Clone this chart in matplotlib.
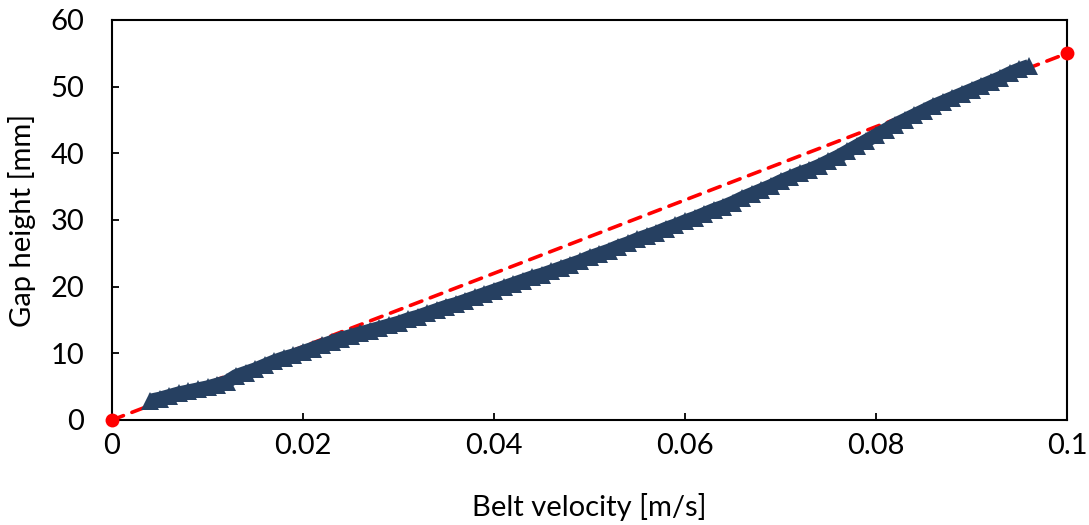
import matplotlib
matplotlib.use("Agg")
import matplotlib.pyplot as plt
from matplotlib.ticker import FixedLocator, FixedFormatter

# Measured data: belt velocity [m/s] vs gap height [mm]
velocity = [0.004, 0.005, 0.006, 0.007, 0.008, 0.009, 0.010, 0.011, 0.012, 0.013,
            0.014, 0.015, 0.016, 0.017, 0.018, 0.019, 0.020, 0.021, 0.022, 0.023,
            0.024, 0.025, 0.026, 0.027, 0.028, 0.029, 0.030, 0.031, 0.032, 0.033,
            0.034, 0.035, 0.036, 0.037, 0.038, 0.039, 0.040, 0.041, 0.042, 0.043,
            0.044, 0.045, 0.046, 0.047, 0.048, 0.049, 0.050, 0.051, 0.052, 0.053,
            0.054, 0.055, 0.056, 0.057, 0.058, 0.059, 0.060, 0.061, 0.062, 0.063,
            0.064, 0.065, 0.066, 0.067, 0.068, 0.069, 0.070, 0.071, 0.072, 0.073,
            0.074, 0.075, 0.076, 0.077, 0.078, 0.079, 0.080, 0.081, 0.082, 0.083,
            0.084, 0.085, 0.086, 0.087, 0.088, 0.089, 0.090, 0.091, 0.092, 0.093,
            0.094, 0.095, 0.096]
gap_height = [2.9, 3.2, 3.6, 4.0, 4.3, 4.6, 4.9, 5.3, 5.7, 6.6,
              7.1, 7.6, 8.2, 8.8, 9.3, 9.7, 10.2, 10.7, 11.2, 11.7,
              12.2, 12.6, 13.0, 13.4, 13.8, 14.2, 14.6, 15.1, 15.5, 16.0,
              16.5, 17.0, 17.4, 17.9, 18.4, 18.9, 19.4, 19.9, 20.4, 20.9,
              21.4, 21.8, 22.3, 22.8, 23.3, 23.8, 24.4, 24.9, 25.4, 26.0,
              26.5, 27.1, 27.6, 28.1, 28.7, 29.2, 29.8, 30.3, 30.9, 31.5,
              32.0, 32.6, 33.3, 33.9, 34.5, 35.1, 35.8, 36.4, 37.0, 37.5,
              38.1, 38.8, 39.5, 40.3, 41.1, 41.9, 42.7, 43.5, 44.3, 45.0,
              45.7, 46.4, 47.1, 47.7, 48.3, 48.9, 49.5, 50.1, 50.7, 51.3,
              52.0, 52.6, 53.1]

# Reference (dashed) line endpoints
ref_velocity = [0.0, 0.1]
ref_gap = [0.0, 55.0]

x_ticks = [0, 0.02, 0.04, 0.06, 0.08, 0.1]
x_tick_labels = ["0", "0.02", "0.04", "0.06", "0.08", "0.1"]
y_ticks = [0, 10, 20, 30, 40, 50, 60]
y_tick_labels = ["0", "10", "20", "30", "40", "50", "60"]

plt.rcParams['font.family'] = ['Lato', 'DejaVu Sans']

fig = plt.figure(figsize=(10.89, 5.25), dpi=100)
ax = fig.add_axes([112 / 1089, 1 - 420 / 525, (1067 - 112) / 1089, 400 / 525])

navy = '#264061'
red = '#FF0000'

ax.plot(ref_velocity, ref_gap, color=red, lw=2.6, ls=(0, (3.4, 2.5)),
        dash_capstyle='round', zorder=2)
ax.plot(velocity, gap_height, color=navy, lw=10, solid_capstyle='butt',
        solid_joinstyle='round', zorder=3)
ax.plot(velocity, gap_height, ls='none', marker='^', markersize=13,
        color=navy, markeredgewidth=0, zorder=4)
ax.plot(ref_velocity, ref_gap, ls='none', marker='o', markersize=10,
        color=red, markeredgewidth=0, zorder=6, clip_on=False)

ax.set_xlim(0, 0.1)
ax.set_ylim(0, 60)
ax.xaxis.set_major_locator(FixedLocator(x_ticks))
ax.xaxis.set_major_formatter(FixedFormatter(x_tick_labels))
ax.yaxis.set_major_locator(FixedLocator(y_ticks))
ax.yaxis.set_major_formatter(FixedFormatter(y_tick_labels))

for s in ax.spines.values():
    s.set_linewidth(1.5)
    s.set_color('black')
    s.set_zorder(5)

ax.tick_params(axis='both', direction='in', length=5, width=1.3,
               labelsize=21, colors='black')
ax.tick_params(axis='x', pad=9)
ax.tick_params(axis='y', pad=20)
ax.tick_params(top=False, right=False)

ax.set_xlabel('Belt velocity [m/s]', fontsize=21, labelpad=25)
ax.set_ylabel('Gap height [mm]', fontsize=21, labelpad=10)

fig.savefig('out.png', dpi=100)
